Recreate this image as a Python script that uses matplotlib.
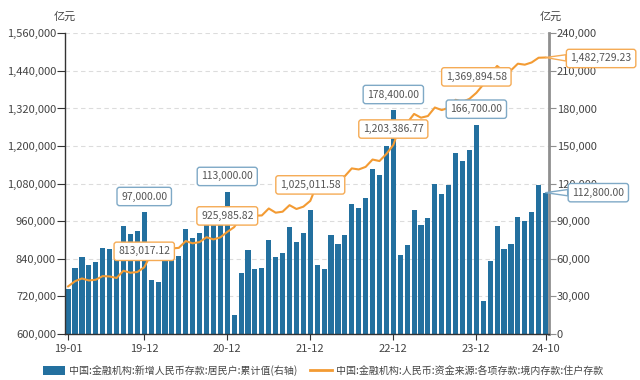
import numpy as np
import matplotlib
matplotlib.use('Agg')
import matplotlib.pyplot as plt
from matplotlib.patches import Patch
from matplotlib.lines import Line2D
from matplotlib.ticker import FuncFormatter, MultipleLocator

plt.rcParams['font.family'] = ['Noto Sans CJK SC', 'DejaVu Sans']

# ---------------- data ----------------
months = ['19-01', '19-02', '19-03', '19-04', '19-05', '19-06', '19-07', '19-08', '19-09', '19-10', '19-11', '19-12',
          '20-01', '20-02', '20-03', '20-04', '20-05', '20-06', '20-07', '20-08', '20-09', '20-10', '20-11', '20-12',
          '21-01', '21-02', '21-03', '21-04', '21-05', '21-06', '21-07', '21-08', '21-09', '21-10', '21-11', '21-12',
          '22-01', '22-02', '22-03', '22-04', '22-05', '22-06', '22-07', '22-08', '22-09', '22-10', '22-11', '22-12',
          '23-01', '23-02', '23-03', '23-04', '23-05', '23-06', '23-07', '23-08', '23-09', '23-10', '23-11', '23-12',
          '24-01', '24-02', '24-03', '24-04', '24-05', '24-06', '24-07', '24-08', '24-09', '24-10']

# 新增人民币存款:居民户:累计值 (右轴), 亿元
new_deposits = [36000, 52500, 61300, 54900, 57300, 68800, 67700, 62900, 85900, 79500, 81900, 97000,
                43200, 41900, 59200, 60000, 62000, 83700, 76500, 80500, 96000, 89000, 95500, 113000,
                15200, 48500, 67200, 51700, 52500, 74700, 61300, 64500, 85300, 73100, 80500, 99000,
                54700, 51700, 78700, 72000, 79000, 103700, 100300, 108500, 132000, 127200, 149900, 178400,
                62700, 70700, 99200, 87200, 92500, 119700, 111500, 118900, 144300, 137900, 147200, 166700,
                26400, 58400, 85900, 67700, 71700, 93100, 89900, 97100, 119200, 112800]

# 境内存款:住户存款 (左轴), 亿元
household = [752000, 768500, 777300, 770900, 773300, 784800, 783700, 778900, 801900, 795500, 797900, 813017.12,
             856200, 854900, 872200, 873000, 875000, 896700, 889500, 893500, 909000, 902000, 908500, 925985.82,
             941200, 974500, 993200, 977700, 978500, 1000700, 987300, 990500, 1011300, 999100, 1006500, 1025011.58,
             1079700, 1076700, 1103700, 1097000, 1104000, 1128700, 1125300, 1133500, 1157000, 1152200, 1174900, 1203386.77,
             1266100, 1274100, 1302600, 1290600, 1295900, 1323100, 1314900, 1322300, 1347700, 1341300, 1350600, 1369894.58,
             1396300, 1428300, 1455800, 1437600, 1441600, 1463000, 1459800, 1467000, 1482000, 1482729.23]

tick_labels = ['19-01', '19-12', '20-12', '21-12', '22-12', '23-12', '24-10']
bar_label_months = ['19-12', '20-12', '22-12', '23-12']
line_label_months = ['19-12', '20-12', '21-12', '22-12', '23-12']

bar_name = '中国:金融机构:新增人民币存款:居民户:累计值(右轴)'
line_name = '中国:金融机构:人民币:资金来源:各项存款:境内存款:住户存款'

BAR = '#23709f'
ORANGE = '#f39b33'
BAR_EDGE = '#7fa9c6'
LINE_EDGE = '#f5ab55'
TXT = '#444444'

# ---------------- figure ----------------
fig = plt.figure(figsize=(6.4, 3.8), dpi=100)
ax = fig.add_axes([65 / 640, 1 - 334 / 380, (549 - 65) / 640, (334 - 33.3) / 380])
x = np.arange(len(months))

ax.bar(x, new_deposits, width=0.74, color=BAR, zorder=2)
ax.set_ylim(0, 240000)
ax.set_xlim(-0.45, 69.5)
ax.yaxis.set_major_locator(MultipleLocator(30000))
ax.grid(axis='y', linestyle=(0, (4, 3)), color='#dcdcdc', lw=0.8)
ax.set_axisbelow(True)

ax2 = ax.twinx()
ax2.plot(x, household, color=ORANGE, lw=1.5, zorder=3)
ax2.set_ylim(600000, 1560000)
ax2.yaxis.set_major_locator(MultipleLocator(120000))

ax.yaxis.tick_right()
ax2.yaxis.tick_left()

fmt = FuncFormatter(lambda v, p: f'{int(round(v)):,}')
ax.yaxis.set_major_formatter(fmt)
ax2.yaxis.set_major_formatter(fmt)

ax.set_xticks([months.index(t) for t in tick_labels])
ax.set_xticklabels(tick_labels)

for s in ax.spines.values():
    s.set_visible(False)
ax2.spines['top'].set_visible(False)
ax2.spines['left'].set_color('#333333')
ax2.spines['left'].set_linewidth(1.0)
ax2.spines['bottom'].set_color('#333333')
ax2.spines['bottom'].set_linewidth(1.0)
ax2.spines['right'].set_color('#8f8f8f')
ax2.spines['right'].set_linewidth(2.0)

ax.tick_params(axis='x', length=4, color='#333333', labelsize=8, labelcolor=TXT, pad=3)
ax.tick_params(axis='y', length=5, color='#8f8f8f', labelsize=8, labelcolor=TXT, pad=0.5)
ax2.tick_params(axis='y', length=6, color='#333333', labelsize=8, labelcolor=TXT, pad=0.5)

fig.text(65 / 640, 1 - 17 / 380, '亿元', ha='center', va='center', fontsize=8, color=TXT)
fig.text(551 / 640, 1 - 17 / 380, '亿元', ha='center', va='center', fontsize=8, color=TXT)


def box_label(xi, yi, text, ec, trans, dx=0.0, dy=11.5, pointer=False):
    kw = dict(xy=(xi, yi), xycoords=trans, xytext=(dx, dy), textcoords='offset points',
              ha='center', va='center', fontsize=7.5, color='#555555', zorder=6,
              bbox=dict(boxstyle='round,pad=0.4,rounding_size=0.25', fc='white', ec=ec, lw=1.0))
    if pointer:
        kw['arrowprops'] = dict(arrowstyle='wedge,tail_width=0.6,shrink_factor=0.5',
                                fc='white', ec=ec, lw=1.0, shrinkA=0, shrinkB=0)
    ax2.annotate(text, **kw)


for m in bar_label_months:
    i = months.index(m)
    box_label(i, new_deposits[i], f'{new_deposits[i]:,.2f}', BAR_EDGE, ax.transData)
for m in line_label_months:
    i = months.index(m)
    box_label(i, household[i], f'{household[i]:,.2f}', LINE_EDGE, ax2.transData)

last = len(months) - 1
box_label(last, new_deposits[last], f'{new_deposits[last]:,.2f}', BAR_EDGE, ax.transData,
          dx=38, dy=0, pointer=True)
box_label(last, household[last], f'{household[last]:,.2f}', LINE_EDGE, ax2.transData,
          dx=40, dy=-0.7, pointer=True)

handles = [Patch(facecolor=BAR, edgecolor='none'), Line2D([0], [0], color=ORANGE, lw=2)]
leg = fig.legend(handles, [bar_name, line_name], loc='center', bbox_to_anchor=(0.5 + 3 / 640, 1 - 371 / 380),
                 ncol=2, frameon=False, fontsize=7.2, handlelength=2.2, handleheight=1.0,
                 handletextpad=0.45, columnspacing=1.2, borderaxespad=0)
for t in leg.get_texts():
    t.set_color(TXT)

fig.savefig('out.png', dpi=100)
